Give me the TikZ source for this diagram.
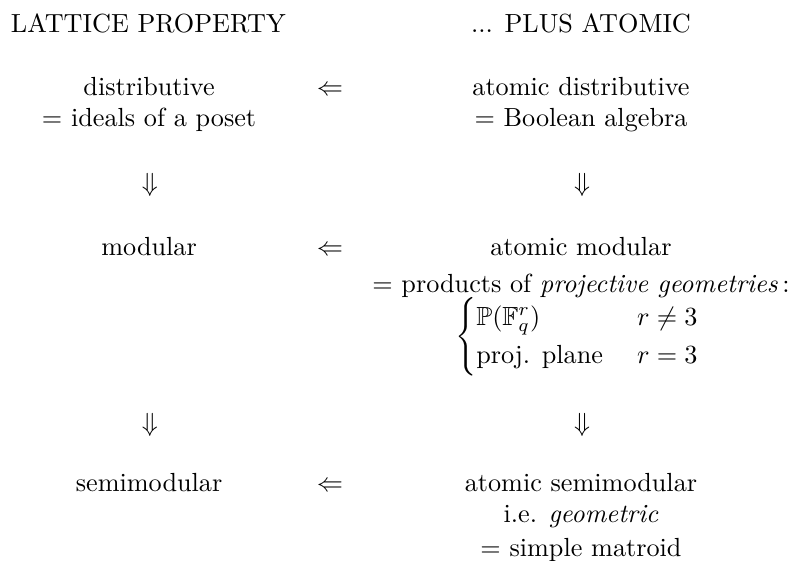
\documentclass[tikz,border=0pt]{standalone}
\usepackage{amsmath, amssymb}
\usepackage{tikz}
\usetikzlibrary{positioning}

\begin{document}
\begin{tikzpicture}[
    txt/.style={anchor=base, inner sep=0pt},
    impl/.style={inner sep=0pt}
]

    \useasboundingbox (0,0) rectangle (10.68,7.527);

    % =================================================================
    % 1. TIÊU ĐỀ HAI CỘT
    % =================================================================
    \node[txt] (headL) at (1.99, 7.097) {LATTICE PROPERTY};
    \node[txt] (headR) at (7.795, 7.097) {... PLUS ATOMIC};

    % =================================================================
    % 2. CỘT TRÁI
    % =================================================================
    \node[txt] (dist)  at (2.0, 6.252) {distributive};
    \node[txt] (distB) at (2.0, 5.836) {$=$ ideals of a poset};
    \node[txt] (mod)   at (2.0, 4.105) {modular};
    \node[txt] (semi)  at (2.0, 0.926) {semimodular};

    % =================================================================
    % 3. CỘT PHẢI
    % =================================================================
    \node[txt] (aDist)  at (7.795, 6.252) {atomic distributive};
    \node[txt] (aDistB) at (7.795, 5.836) {$=$ Boolean algebra};

    \node[txt] (aMod)  at (7.795, 4.105) {atomic modular};
    \node[txt] (aModB) at (7.795, 3.609) {$=$ products of \emph{projective geometries}\,:};
    % Hai trường hợp (r = 3 và r khác 3)
    \node[impl, anchor=west] (aModC) at (6.10, 3.01)
        {$\renewcommand{\arraystretch}{1.2}\left\{\begin{array}{@{}l@{\hspace{13pt}}l@{}}
            \mathbb{P}(\mathbb{F}_q^r) & r\neq 3\\
            \text{proj. plane} & r=3
        \end{array}\right.$};

    \node[txt] (aSemi)  at (7.795, 0.926) {atomic semimodular};
    \node[txt] (aSemiB) at (7.795, 0.510) {i.e. \emph{geometric}};
    \node[txt] (aSemiC) at (7.795, 0.054) {$=$ simple matroid};

    % =================================================================
    % 4. CÁC MŨI TÊN SUY RA
    % =================================================================
    % Mũi tên ngang (phải suy ra trái)
    \node[txt] (l1) at (4.427, 6.252) {$\Leftarrow$};
    \node[txt] (l2) at (4.427, 4.105) {$\Leftarrow$};
    \node[txt] (l3) at (4.427, 0.926) {$\Leftarrow$};

    % Mũi tên dọc
    \node[impl] (d1) at (2.01, 5.044) {$\Downarrow$};
    \node[impl] (d2) at (2.01, 1.825) {$\Downarrow$};
    \node[impl] (d3) at (7.81, 5.044) {$\Downarrow$};
    \node[impl] (d4) at (7.81, 1.825) {$\Downarrow$};

\end{tikzpicture}
\end{document}
